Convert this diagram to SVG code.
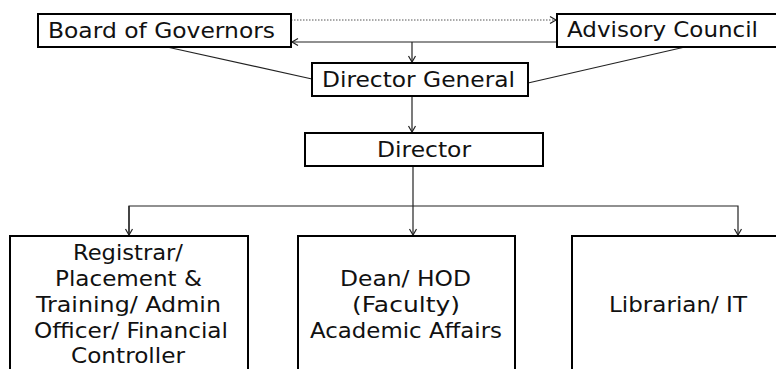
<svg xmlns="http://www.w3.org/2000/svg" width="776" height="369" viewBox="0 0 776 369">
<style>
.box{fill:#fff;stroke:#000;stroke-width:2}
.t{font-family:"DejaVu Sans",Verdana,sans-serif;font-size:21px;fill:#111;text-anchor:middle}
.c{stroke:#222;stroke-width:1.2;fill:none}
.d{stroke:#555;stroke-width:1;stroke-dasharray:1.5 1.5;fill:none}
</style>
<defs>
<marker id="a" markerUnits="userSpaceOnUse" markerWidth="10" markerHeight="10" refX="7" refY="5" orient="auto">
<path d="M1,1.5 L7,5 L1,8.5" fill="none" stroke="#222" stroke-width="1.2"/>
</marker>
</defs>
<rect width="776" height="369" fill="#fff"/>
<g id="connectors">
<path class="d" d="M291,20 H556" marker-end="url(#a)"/>
<path class="c" d="M557,42 H292" marker-end="url(#a)"/>
<path class="c" d="M412,42 V62" marker-end="url(#a)"/>
<path class="c" d="M167,47 L312,79"/>
<path class="c" d="M685,47 L528,83"/>
<path class="c" d="M412,96 V132" marker-end="url(#a)"/>
<path class="c" d="M413,166 V235" marker-end="url(#a)"/>
<path class="c" d="M129,235 V206 H738 V235" marker-end="url(#a)"/>
<path class="c" d="M129,206 V235" marker-end="url(#a)"/>
</g>
<g id="board">
<rect class="box" x="38" y="14" width="253" height="33"/>
<text class="t" x="161.5" y="38" textLength="227" lengthAdjust="spacingAndGlyphs">Board of Governors</text>
</g>
<g id="advisory">
<rect class="box" x="557" y="14" width="222" height="33"/>
<text class="t" x="662.5" y="37" textLength="191" lengthAdjust="spacingAndGlyphs">Advisory Council</text>
</g>
<g id="dg">
<rect class="box" x="312" y="63" width="216" height="33"/>
<text class="t" x="418.5" y="87" textLength="193" lengthAdjust="spacingAndGlyphs">Director General</text>
</g>
<g id="director">
<rect class="box" x="305" y="133" width="238" height="33"/>
<text class="t" x="424" y="157" textLength="94" lengthAdjust="spacingAndGlyphs">Director</text>
</g>
<g id="registrar">
<rect class="box" x="10" y="236" width="238" height="150"/>
<text class="t" x="128" y="260" textLength="110" lengthAdjust="spacingAndGlyphs">Registrar/</text>
<text class="t" x="128.5" y="286" textLength="147" lengthAdjust="spacingAndGlyphs">Placement &amp;</text>
<text class="t" x="128.5" y="312" textLength="185" lengthAdjust="spacingAndGlyphs">Training/ Admin</text>
<text class="t" x="131" y="338" textLength="194" lengthAdjust="spacingAndGlyphs">Officer/ Financial</text>
<text class="t" x="128" y="363" textLength="114" lengthAdjust="spacingAndGlyphs">Controller</text>
</g>
<g id="dean">
<rect class="box" x="298" y="236" width="217" height="150"/>
<text class="t" x="405.5" y="286" textLength="131" lengthAdjust="spacingAndGlyphs">Dean/ HOD</text>
<text class="t" x="406" y="312" textLength="108" lengthAdjust="spacingAndGlyphs">(Faculty)</text>
<text class="t" x="406" y="338" textLength="192" lengthAdjust="spacingAndGlyphs">Academic Affairs</text>
</g>
<g id="librarian">
<rect class="box" x="572" y="236" width="212" height="150"/>
<text class="t" x="678" y="312" textLength="138" lengthAdjust="spacingAndGlyphs">Librarian/ IT</text>
</g>
</svg>
